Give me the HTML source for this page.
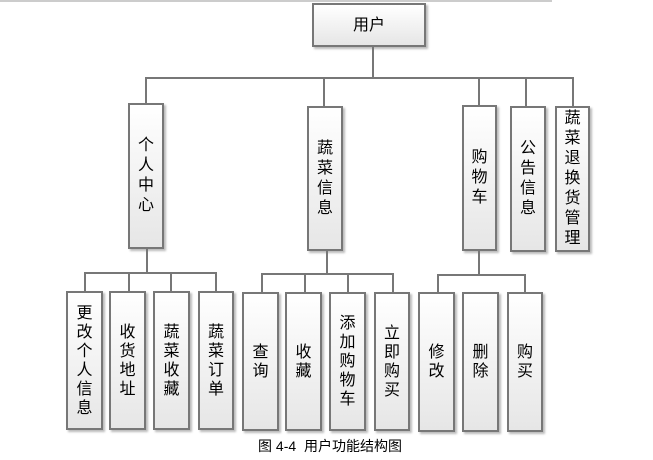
<!DOCTYPE html>
<html><head><meta charset="utf-8"><style>
body{margin:0;width:653px;height:460px;background:#fff;position:relative;overflow:hidden;font-family:"Liberation Sans","Noto Sans CJK SC",sans-serif;}
.b{position:absolute;box-sizing:border-box;border:2px solid #777;background:linear-gradient(to bottom,#ffffff,#e6e6e6);box-shadow:2px 2px 2px #bbb;display:flex;align-items:center;justify-content:center;text-align:center;font-size:16px;line-height:19px;color:#000;}
.v{width:1em;word-break:break-all;}
.h{position:absolute;height:2px;background:#777;}
.vl{position:absolute;width:2px;background:#777;}
</style></head><body>
<div style="position:absolute;left:0;top:0;width:552px;height:2px;background:#ccc"></div>
<div class="b" style="left:312px;top:3px;width:114px;height:44px;">用户</div>
<div class="vl" style="left:372px;top:46px;height:33px"></div>
<div class="h" style="left:145px;top:77px;width:429px"></div>
<div class="vl" style="left:145px;top:77px;height:27px"></div>
<div class="vl" style="left:323px;top:77px;height:29px"></div>
<div class="vl" style="left:478px;top:77px;height:29px"></div>
<div class="vl" style="left:525px;top:77px;height:29px"></div>
<div class="vl" style="left:572px;top:77px;height:29px"></div>
<div class="b" style="left:128px;top:103px;width:36px;height:146px"><div class="v" style="line-height:20px">个人中心</div></div>
<div class="b" style="left:307px;top:106px;width:36px;height:145px"><div class="v" style="line-height:20px">蔬菜信息</div></div>
<div class="b" style="left:462px;top:105px;width:35px;height:146px"><div class="v" style="line-height:20px">购物车</div></div>
<div class="b" style="left:510px;top:106px;width:36px;height:146px"><div class="v" style="line-height:20px">公告信息</div></div>
<div class="b" style="left:555px;top:106px;width:35px;height:146px"><div class="v" style="line-height:20px">蔬菜退换货管理</div></div>
<div class="vl" style="left:146px;top:249px;height:25px"></div>
<div class="vl" style="left:326px;top:251px;height:23px"></div>
<div class="vl" style="left:478px;top:251px;height:24px"></div>
<div class="h" style="left:84px;top:272px;width:133px"></div>
<div class="h" style="left:261px;top:273px;width:133px"></div>
<div class="h" style="left:437px;top:274px;width:89px"></div>
<div class="vl" style="left:84px;top:272px;height:20px"></div>
<div class="vl" style="left:128px;top:272px;height:20px"></div>
<div class="vl" style="left:170px;top:272px;height:20px"></div>
<div class="vl" style="left:215px;top:272px;height:20px"></div>
<div class="vl" style="left:261px;top:273px;height:20px"></div>
<div class="vl" style="left:304px;top:273px;height:20px"></div>
<div class="vl" style="left:347px;top:273px;height:20px"></div>
<div class="vl" style="left:392px;top:273px;height:20px"></div>
<div class="vl" style="left:437px;top:274px;height:20px"></div>
<div class="vl" style="left:524px;top:274px;height:20px"></div>
<div class="b" style="left:66px;top:291px;width:37px;height:139px"><div class="v">更改个人信息</div></div>
<div class="b" style="left:109px;top:291px;width:37px;height:139px"><div class="v">收货地址</div></div>
<div class="b" style="left:153px;top:291px;width:37px;height:139px"><div class="v">蔬菜收藏</div></div>
<div class="b" style="left:198px;top:291px;width:36px;height:139px"><div class="v">蔬菜订单</div></div>
<div class="b" style="left:242px;top:292px;width:37px;height:139px"><div class="v">查询</div></div>
<div class="b" style="left:285px;top:292px;width:37px;height:139px"><div class="v">收藏</div></div>
<div class="b" style="left:329px;top:292px;width:37px;height:139px"><div class="v">添加购物车</div></div>
<div class="b" style="left:374px;top:292px;width:36px;height:139px"><div class="v">立即购买</div></div>
<div class="b" style="left:418px;top:292px;width:37px;height:140px"><div class="v">修改</div></div>
<div class="b" style="left:462px;top:292px;width:37px;height:140px"><div class="v">删除</div></div>
<div class="b" style="left:507px;top:292px;width:36px;height:140px"><div class="v">购买</div></div>
<div style="position:absolute;left:250px;top:437px;width:160px;text-align:center;font-size:14px;line-height:18px;white-space:pre">图 4-4  用户功能结构图</div>
</body></html>
